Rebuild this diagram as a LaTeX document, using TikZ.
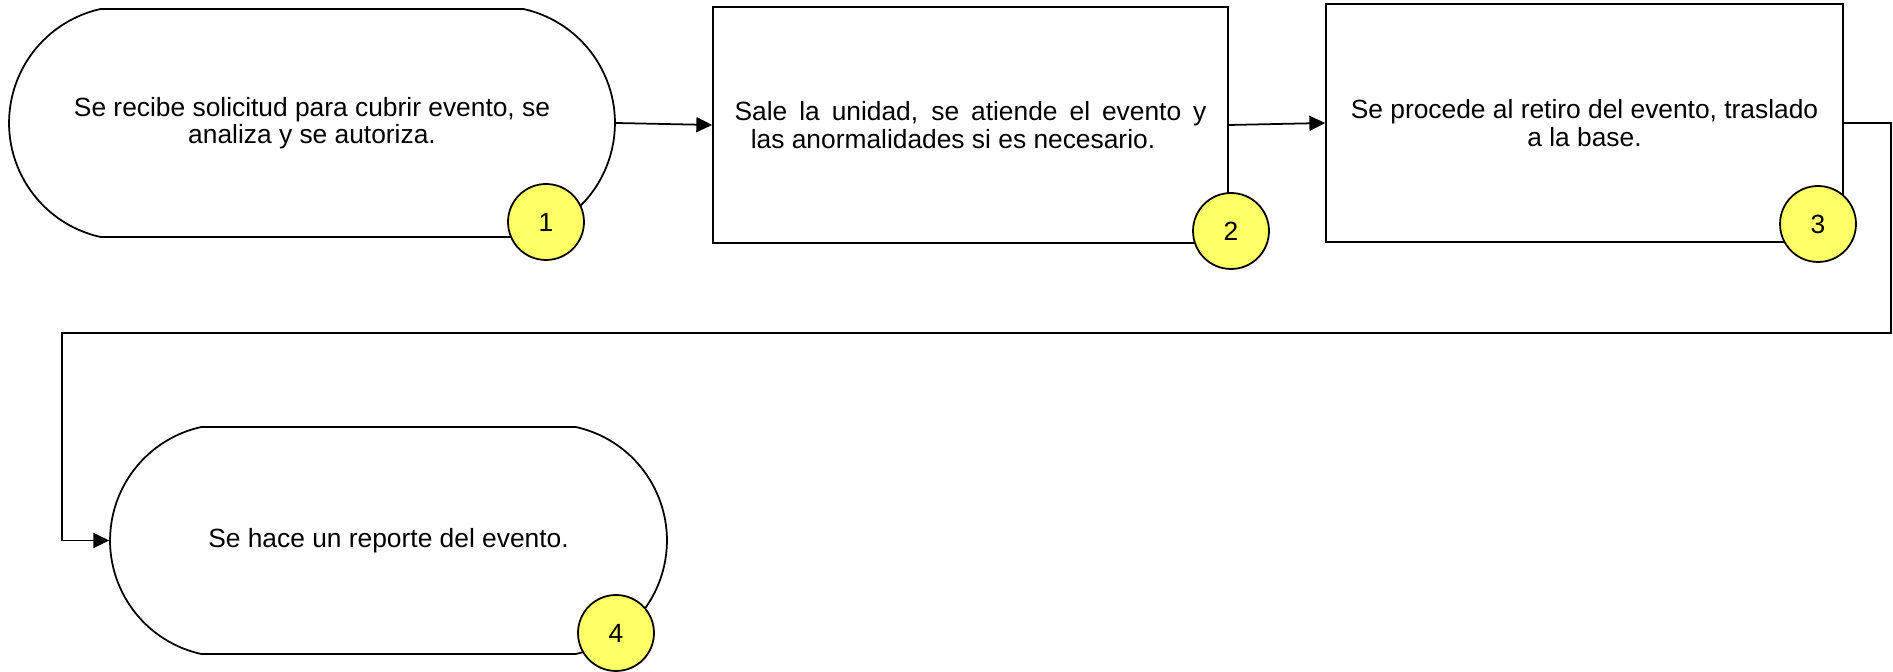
\documentclass[tikz,border=0pt]{standalone}
\usepackage{fontspec}
\setmainfont{Liberation Sans}
\usetikzlibrary{shapes.misc,arrows.meta}
\definecolor{numyellow}{RGB}{255,255,102}

\begin{document}
\begin{tikzpicture}[x=0.02cm,y=0.02cm,
  font=\fontsize{15}{15.6}\selectfont,
  term/.style={draw,line width=1pt,rounded rectangle,rounded rectangle arc length=155,align=center,inner sep=0pt},
  proc/.style={draw,line width=1pt,rectangle,align=center,inner sep=0pt},
  num/.style={draw,line width=1pt,circle,fill=numyellow,minimum size=1.52cm,inner sep=0pt},
  flow/.style={line width=1pt,-{Triangle[length=9pt,width=8.5pt]}}]
  \useasboundingbox (0,0) rectangle (1893,672);

  % steps
  \node[term,minimum width=12.12cm,minimum height=4.56cm] (t1) at (312,549)
    {Se recibe solicitud para cubrir evento, se\\analiza y se autoriza.};
  \node[proc,minimum width=10.3cm,minimum height=4.72cm] (b2) at (970.5,547)
    {\makebox[9.44cm][s]{Sale la unidad, se atiende el evento y}\\las anormalidades si es necesario.\hspace*{0.7cm}};
  \node[proc,minimum width=10.34cm,minimum height=4.76cm] (b3) at (1584.5,549)
    {Se procede al retiro del evento, traslado\\a la base.};
  \node[term,minimum width=11.14cm,minimum height=4.54cm] (t4) at (388.5,131.5)
    {Se hace un reporte del evento.};

  % connectors
  \coordinate (c1) at (1891,339);
  \coordinate (c2) at (62,339);
  \draw[flow] (t1.east) -- (b2.west);
  \draw[flow] (b2.east) -- (b3.west);
  \draw[flow] (b3.east) -| (c1) -- (c2) |- (t4.west);

  % numbers
  \node[num] (n1) at (546,450) {1};
  \node[num] (n2) at (1231,441) {2};
  \node[num] (n3) at (1818,448) {3};
  \node[num] (n4) at (616,39) {4};
\end{tikzpicture}
\end{document}
